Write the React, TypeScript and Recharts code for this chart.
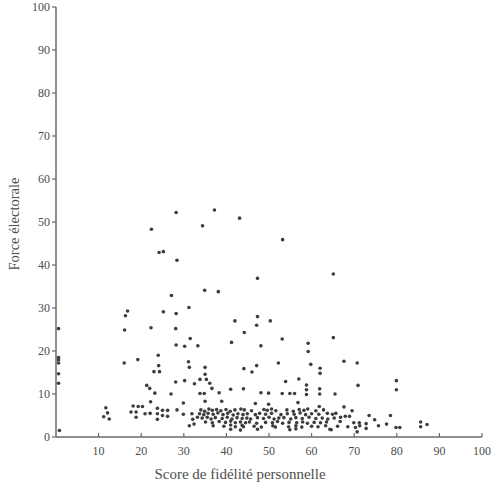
import React from 'react';
import { ScatterChart, Scatter, XAxis, YAxis, ZAxis } from 'recharts';

// [score de fidélité, force électorale] pairs, grouped by area of the plot
const edgeDeputies: [number, number][] = [
  [0.6, 25.2], [0.6, 18.5], [0.6, 17.9], [0.6, 17.2], [0.6, 14.7], [0.6, 12.5], [0.8, 1.5],
  [11.7, 6.8], [12.1, 5.6], [11.2, 4.7], [12.5, 4.2],
];

const highForce: [number, number][] = [
  [28.2, 52.2], [37.2, 52.8], [43.1, 50.9], [34.4, 49.1], [22.4, 48.3], [53.2, 45.9],
  [24.2, 42.9], [25.2, 43.1], [28.4, 41.1], [65.1, 37.9], [47.3, 36.9], [34.9, 34.1],
  [38.1, 33.8], [27.1, 32.9], [31.2, 30.1], [16.8, 29.3], [16.3, 28.2], [25.2, 29.1],
  [28.2, 28.7], [42.0, 27.0], [47.3, 28.0], [47.1, 26.0], [50.3, 27.0], [16.1, 24.9],
  [22.3, 25.4], [28.1, 25.2], [44.2, 24.3], [31.5, 22.9], [53.1, 22.8], [65.1, 23.1],
  [28.2, 21.4], [30.2, 21.1], [33.3, 21.2], [41.2, 22.0], [48.1, 21.2], [59.2, 21.8],
];

const midForce: [number, number][] = [
  [59.2, 19.9], [24.0, 19.0], [19.2, 18.0], [16.0, 17.2], [31.1, 17.5], [52.2, 17.2],
  [59.8, 16.9], [67.6, 17.6], [70.7, 17.2], [24.1, 16.6], [23.0, 15.2], [24.3, 15.2],
  [31.3, 16.2], [35.0, 16.2], [35.0, 14.6], [44.1, 15.9], [47.1, 16.6], [46.0, 15.1],
  [62.0, 16.0], [62.0, 14.8], [35.3, 13.4], [33.8, 13.4], [36.1, 12.5], [36.6, 11.3],
  [32.5, 12.4], [30.2, 13.1], [28.1, 12.8], [21.3, 12.0], [22.0, 11.3], [23.2, 10.2],
  [27.0, 10.0], [33.8, 10.1], [34.8, 10.1], [38.3, 10.3], [41.0, 11.1], [44.0, 11.2],
  [53.9, 12.9], [57.0, 13.5], [58.8, 12.1], [58.8, 11.0], [58.8, 9.9], [61.9, 11.2],
  [61.9, 10.0], [48.1, 10.3], [49.9, 10.2], [53.1, 10.1], [54.9, 10.1], [56.0, 10.1],
  [65.5, 10.0], [70.9, 12.0], [79.9, 13.1], [79.9, 11.0],
  [22.2, 8.2], [29.9, 7.9], [35.0, 8.3], [38.9, 8.3], [46.8, 7.8], [49.9, 7.6],
  [56.8, 8.0], [61.8, 7.1],
];

const lowLeft: [number, number][] = [
  [18.1, 7.2], [19.3, 7.1], [20.3, 7.1], [17.6, 5.8], [18.8, 5.8], [18.8, 4.6],
  [20.9, 5.4], [22.1, 5.5], [23.8, 6.7], [25.0, 6.2], [26.2, 6.2], [23.8, 5.4],
  [25.0, 5.0], [26.2, 4.8], [28.4, 6.3], [29.9, 5.3], [23.8, 4.1],
  [31.9, 5.4], [33.2, 4.6], [32.1, 4.1], [31.3, 2.6], [32.4, 3.0],
];

const lowCentre: [number, number][] = [
  [34.0, 6.3], [34.9, 6.0], [35.9, 6.5], [36.7, 6.2], [37.7, 6.4], [38.7, 6.1], [39.9, 6.4],
  [40.9, 6.0], [42.0, 6.3], [43.4, 6.5],
  [33.7, 5.4], [34.7, 5.2], [35.7, 5.5], [36.9, 5.3], [38.0, 5.6], [39.2, 5.2], [40.3, 5.5],
  [41.6, 5.1], [42.7, 5.4], [43.9, 5.2],
  [34.3, 4.4], [35.5, 4.6], [36.4, 4.2], [37.4, 4.5], [39.0, 4.3], [40.2, 4.6], [41.3, 4.2],
  [42.5, 4.5], [43.7, 4.3],
  [35.1, 3.5], [36.7, 3.3], [38.3, 3.6], [39.8, 3.4], [41.0, 3.7], [42.1, 3.3], [43.3, 3.5],
  [36.9, 2.6], [39.4, 2.5], [41.0, 2.8], [42.1, 2.4], [43.7, 2.7],
  [41.0, 1.8], [43.3, 1.6],
];

const lowRight: [number, number][] = [
  [44.2, 6.3], [45.9, 6.1], [48.8, 6.4], [49.6, 6.2], [50.6, 6.5], [51.6, 6.1], [54.2, 6.3],
  [55.7, 6.0], [57.1, 6.4], [58.2, 6.2], [59.1, 6.5], [61.0, 6.1], [62.8, 6.3],
  [44.9, 5.4], [46.8, 5.2], [47.8, 5.5], [49.2, 5.3], [50.6, 5.5], [52.8, 5.2], [54.3, 5.4],
  [55.9, 5.3], [57.3, 5.6], [58.6, 5.2], [60.0, 5.4], [61.7, 5.3], [63.7, 5.5],
  [44.8, 4.4], [45.7, 4.2], [47.3, 4.5], [48.7, 4.3], [50.0, 4.6], [51.2, 4.2], [52.3, 4.4],
  [53.5, 4.5], [55.1, 4.2], [56.3, 4.5], [57.8, 4.3], [59.4, 4.6], [61.0, 4.3], [62.5, 4.4],
  [63.8, 4.2],
  [44.5, 3.3], [45.4, 3.5], [47.1, 3.2], [49.2, 3.4], [50.8, 3.3], [52.0, 3.6], [53.2, 3.2],
  [54.7, 3.4], [56.5, 3.3], [57.9, 3.5], [59.0, 3.2], [60.6, 3.4], [62.1, 3.3], [63.5, 3.5],
  [44.0, 2.4], [46.5, 2.5], [48.2, 2.3], [50.9, 2.6], [51.5, 2.3], [54.6, 2.4], [56.3, 2.6],
  [57.7, 2.3], [60.0, 2.5], [61.5, 2.4], [63.3, 2.6],
  [47.3, 1.8], [54.9, 1.7], [56.3, 1.9], [64.3, 1.8],
];

const farRight: [number, number][] = [
  [64.9, 5.3], [65.7, 5.5], [65.3, 4.4], [66.8, 4.6], [67.9, 4.8], [68.9, 4.8], [66.7, 3.6],
  [69.9, 3.3], [71.2, 3.3], [72.8, 3.1], [66.1, 2.5], [68.5, 2.4], [70.3, 2.2], [71.3, 2.6],
  [72.8, 2.0], [70.7, 1.2], [64.6, 1.7], [75.7, 2.6], [77.6, 3.0], [79.8, 2.2], [80.7, 2.2],
  [85.6, 3.5], [85.6, 2.4], [87.1, 2.9], [73.5, 5.0], [74.8, 4.0], [78.5, 5.0], [69.5, 6.1],
  [67.6, 7.0],
];

const xTicks = [10, 20, 30, 40, 50, 60, 70, 80, 90, 100];
const yTicks = [0, 10, 20, 30, 40, 50, 60, 70, 80, 90, 100];

const points = [
  ...edgeDeputies, ...highForce, ...midForce, ...lowLeft, ...lowCentre, ...lowRight, ...farRight,
].map(([score, force]) => ({ score, force }));

const FONT = '"Liberation Serif", "Times New Roman", serif';
const INK = '#4d4d4d';
const AXIS = '#6a6a6a';

const Dot = (props: any) => <circle cx={props.cx} cy={props.cy} r={1.8} fill="#3d3d3d" />;

// x ticks point up into the plot, label sits below the axis line
const XTick = (props: any) => {
  const { x, y, payload } = props;
  return (
    <g>
      <line x1={x} x2={x} y1={y} y2={y - 4} stroke={AXIS} strokeWidth={1.2} />
      <text x={x} y={y + 18} textAnchor="middle" fontFamily={FONT} fontSize={12} fill={INK}>
        {payload.value}
      </text>
    </g>
  );
};

const YTitle = (props: any) => {
  const vb = props.viewBox;
  const cx = vb.x + 14;
  const cy = vb.y + vb.height / 2 + 2;
  return (
    <text
      x={cx}
      y={cy}
      transform={`rotate(-90, ${cx}, ${cy})`}
      textAnchor="middle"
      dominantBaseline="central"
      fontFamily={FONT}
      fontSize={14.5}
      fill={INK}
    >
      Force électorale
    </text>
  );
};

const XTitle = (props: any) => {
  const vb = props.viewBox;
  return (
    <text x={vb.x + 184} y={vb.y + 42} textAnchor="middle" fontFamily={FONT} fontSize={15} fill={INK}>
      Score de fidélité personnelle
    </text>
  );
};

export default function App() {
  return (
    <div style={{ position: 'absolute', left: 0, top: 0, background: '#fff' }}>
      <ScatterChart width={501} height={489} margin={{ top: 7, right: 19, bottom: 0, left: 0 }}>
        <XAxis
          type="number"
          dataKey="score"
          domain={[0, 100]}
          ticks={xTicks}
          interval={0}
          height={52}
          tickLine={false}
          tickSize={0}
          tickMargin={0}
          tick={<XTick />}
          axisLine={{ stroke: AXIS, strokeWidth: 1.5 }}
          label={{ content: <XTitle /> }}
        />
        <YAxis
          type="number"
          dataKey="force"
          domain={[0, 100]}
          ticks={yTicks}
          interval={0}
          width={56}
          tickSize={4}
          tickMargin={2}
          tickLine={{ stroke: AXIS, strokeWidth: 1.2 }}
          axisLine={{ stroke: AXIS, strokeWidth: 1.5 }}
          tick={{ fontFamily: FONT, fontSize: 12, fill: INK }}
          label={{ content: <YTitle /> }}
        />
        <ZAxis range={[12, 12]} />
        <Scatter data={points} shape={<Dot />} isAnimationActive={false} />
      </ScatterChart>
    </div>
  );
}
